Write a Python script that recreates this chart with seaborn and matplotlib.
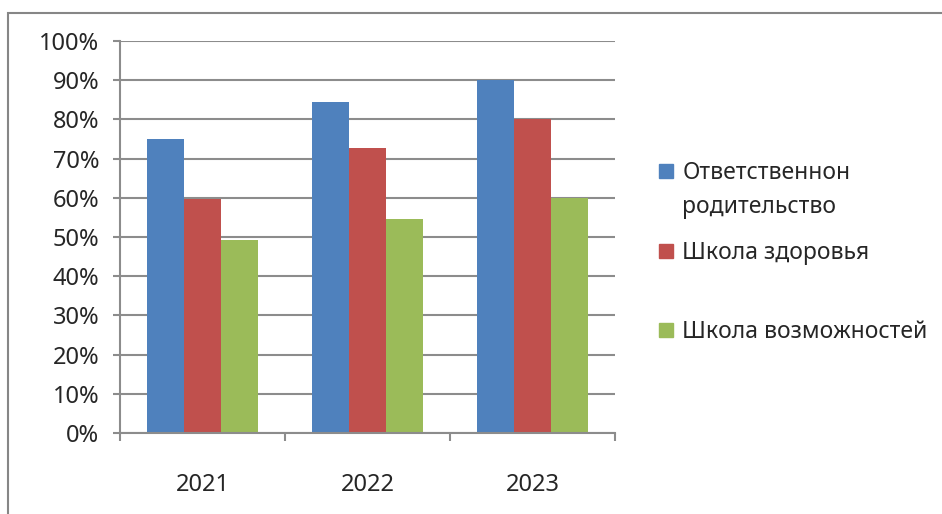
import seaborn as sns
import matplotlib.pyplot as plt
import pandas as pd
from matplotlib.patches import Rectangle
from matplotlib.lines import Line2D

# data (percent)
years = ["2021", "2022", "2023"]
programs = ["Ответственнон\nродительство", "Школа здоровья", "Школа возможностей"]
vals_resp = [75, 84.5, 90]
vals_health = [59.7, 72.8, 80]
vals_opp = [49.3, 54.5, 60]
y_ticks = [0, 10, 20, 30, 40, 50, 60, 70, 80, 90, 100]
y_labels = ["0%", "10%", "20%", "30%", "40%", "50%", "60%", "70%", "80%", "90%", "100%"]
colors = ["#4F81BD", "#C0504D", "#9BBB59"]

rows = []
for prog, vals in zip(programs, [vals_resp, vals_health, vals_opp]):
        for yr, v in zip(years, vals):
                rows.append({"year": yr, "program": prog, "value": v})
df = pd.DataFrame(rows)

sns.set_style("white")
plt.rcParams["font.family"] = ["Noto Sans", "DejaVu Sans"]

fig = plt.figure(figsize=(9.42, 5.14), dpi=100)
ax = fig.add_axes([0.1274, 0.1576, 0.5255, 0.7626])

# outer chart border (only top and left visible in the crop)
fig.patches.append(Rectangle((8/942, -0.1), 1.2, 1 - 13/514 + 0.1, transform=fig.transFigure,
                             fill=False, edgecolor="#868686", linewidth=1.5, zorder=0))

sns.barplot(data=df, x="year", y="value", hue="program", palette=colors,
            width=0.667, saturation=1, gap=0, ax=ax, edgecolor="none", legend=False)

ax.set_ylim(0, 100)
ax.set_xlim(-0.5, 2.5)
ax.set_yticks(y_ticks)
ax.set_yticklabels(y_labels)
ax.yaxis.grid(True, color="#8c8c8c", linewidth=1.5)
ax.set_axisbelow(True)
ax.set_xlabel("")
ax.set_ylabel("")

for s in ["top", "right"]:
        ax.spines[s].set_visible(False)
for s in ["left", "bottom"]:
        ax.spines[s].set_color("#8c8c8c")
        ax.spines[s].set_linewidth(1.5)

ax.tick_params(axis="y", which="major", left=True, length=5, width=1.5, color="#8c8c8c",
               labelsize=17, pad=10)
ax.set_xticks([-0.5, 0.5, 1.5, 2.5], minor=True)
ax.tick_params(axis="x", which="minor", bottom=True, length=6, width=1.5, color="#8c8c8c")
ax.tick_params(axis="x", which="major", bottom=False, labelsize=17, pad=25)

# legend: one entry per block, placed like the excel legend
legend_tops = [161, 241, 320]
for prog, col, top in zip(programs, colors, legend_tops):
        h = Line2D([], [], marker="s", linestyle="none", markersize=10, color=col)
        lg = fig.legend([h], [prog], loc="upper left", bbox_to_anchor=(655/942, 1 - top/514),
                        frameon=False, fontsize=16.5, handlelength=1.0, handleheight=1.2,
                        handletextpad=0.2, borderpad=0, borderaxespad=0)
        # square next to the first text line
        for column in lg._legend_handle_box.get_children():
                for entry in column.get_children():
                        entry.align = "top"
        lg.get_texts()[0].set_linespacing(1.55)

fig.savefig("out.png", dpi=100)
